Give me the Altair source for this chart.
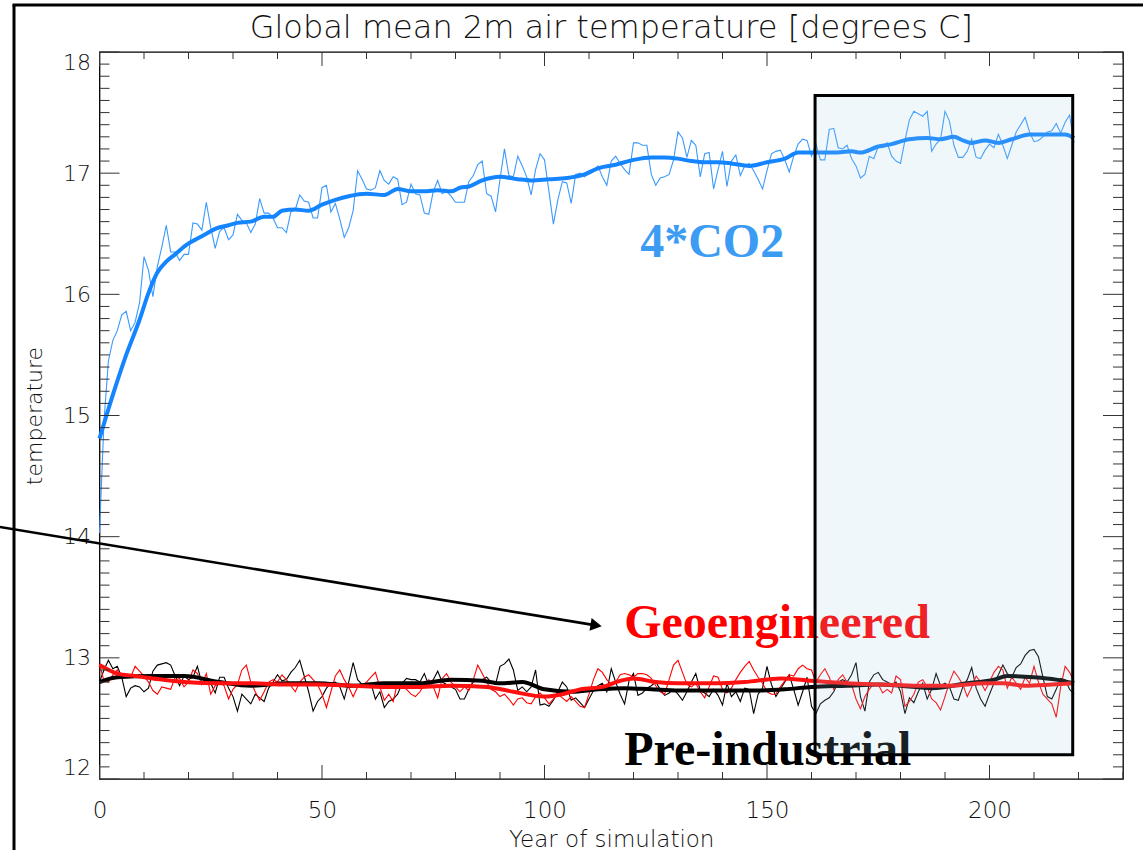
import altair as alt
import pandas as pd

# ---------------- data ----------------
co2_annual = [
    14.03, 14.95, 15.45, 15.62, 15.70, 15.83, 15.86, 15.70, 15.77, 15.93,
    16.31, 16.20, 15.98, 16.23, 16.39, 16.57, 16.35, 16.35, 16.28, 16.33,
    16.33, 16.59, 16.58, 16.53, 16.76, 16.55, 16.38, 16.52, 16.55, 16.45,
    16.49, 16.66, 16.61, 16.59, 16.51, 16.58, 16.79, 16.67, 16.67, 16.63,
    16.55, 16.55, 16.51, 16.68, 16.70, 16.82, 16.77, 16.76, 16.63, 16.63,
    16.88, 16.90, 16.68, 16.75, 16.62, 16.47, 16.55, 16.69, 17.02, 16.95,
    16.87, 16.86, 16.88, 17.02, 16.94, 16.91, 16.97, 16.95, 16.74, 16.76,
    16.91, 16.83, 16.82, 16.67, 16.66, 16.85, 16.94, 16.83, 16.85, 16.81,
    16.76, 16.76, 16.76, 16.93, 16.98, 17.07, 17.10, 16.83, 16.81, 16.68,
    16.95, 17.20, 16.98, 16.97, 17.14, 17.06, 16.97, 16.82, 17.03, 17.16,
    17.11, 16.85, 16.58, 16.78, 16.93, 16.92, 16.75, 16.99, 17.00, 16.97,
    17.00, 17.02, 17.06, 16.97, 16.90, 17.10, 17.14, 17.08, 17.03, 16.99,
    17.25, 17.25, 17.23, 17.23, 16.99, 16.90, 16.96, 16.97, 16.99, 17.11,
    17.34, 17.29, 17.13, 17.27, 17.23, 16.97, 17.16, 17.17, 16.87, 17.03,
    17.18, 16.89, 17.10, 17.15, 16.98, 17.06, 17.08, 17.02, 16.95, 16.87,
    17.02, 17.16, 17.18, 17.19, 17.11, 17.01, 17.14, 17.24, 17.28, 17.27,
    17.14, 17.24, 17.11, 17.11, 17.36, 17.37, 17.21, 17.20, 17.23, 17.12,
    17.06, 16.96, 16.99, 17.14, 17.12, 17.22, 17.21, 17.25, 17.14, 17.10,
    17.08, 17.27, 17.44, 17.51, 17.49, 17.47, 17.51, 17.18, 17.24, 17.28,
    17.51, 17.43, 17.23, 17.13, 17.13, 17.18, 17.28, 17.13, 17.12, 17.19,
    17.24, 17.21, 17.32, 17.23, 17.12, 17.23, 17.34, 17.40, 17.46, 17.34,
    17.26, 17.27, 17.30, 17.34, 17.35, 17.41, 17.33, 17.42, 17.48, 17.25,
]

pi_annual = [
    12.80, 12.90, 12.98, 12.91, 12.93, 12.84, 12.68, 12.75, 12.77, 12.76,
    12.72, 12.75, 12.89, 12.94, 12.95, 12.96, 12.94, 12.85, 12.77, 12.85,
    12.82, 12.84, 12.93, 12.79, 12.80, 12.79, 12.71, 12.84, 12.84, 12.75,
    12.68, 12.56, 12.70, 12.66, 12.62, 12.70, 12.67, 12.64, 12.75, 12.80,
    12.86, 12.81, 12.82, 12.88, 12.92, 12.98, 12.85, 12.72, 12.56, 12.64,
    12.68, 12.75, 12.79, 12.80, 12.76, 12.66, 12.80, 12.96, 12.82, 12.78,
    12.79, 12.79, 12.66, 12.72, 12.59, 12.64, 12.66, 12.70, 12.79, 12.83,
    12.82, 12.82, 12.80, 12.87, 12.77, 12.82, 12.89, 12.80, 12.78, 12.76,
    12.74, 12.66, 12.66, 12.74, 12.80, 12.82, 12.82, 12.84, 12.80, 12.78,
    12.93, 12.95, 12.99, 12.90, 12.73, 12.76, 12.72, 12.76, 12.90, 12.61,
    12.62, 12.60, 12.65, 12.72, 12.80, 12.76, 12.65, 12.67, 12.63, 12.59,
    12.66, 12.73, 12.77, 12.79, 12.72, 12.91, 12.80, 12.70, 12.62, 12.81,
    12.87, 12.69, 12.71, 12.75, 12.77, 12.80, 12.74, 12.69, 12.71, 12.74,
    12.70, 12.65, 12.72, 12.80, 12.87, 12.73, 12.71, 12.68, 12.74, 12.69,
    12.61, 12.79, 12.68, 12.72, 12.64, 12.75, 12.74, 12.54, 12.70, 12.75,
    12.93, 12.78, 12.68, 12.74, 12.80, 12.86, 12.74, 12.61, 12.72, 12.84,
    12.60, 12.54, 12.62, 12.65, 12.67, 12.72, 12.80, 12.82, 12.80, 12.86,
    12.96, 12.68, 12.56, 12.80, 12.86, 12.88, 12.82, 12.80, 12.78, 12.80,
    12.72, 12.54, 12.67, 12.63, 12.72, 12.79, 12.66, 12.74, 12.87, 12.77,
    12.79, 12.76, 12.66, 12.65, 12.76, 12.82, 12.92, 12.75, 12.66, 12.60,
    12.70, 12.79, 12.86, 12.94, 12.87, 12.84, 12.92, 12.95, 13.02, 13.06,
    13.07, 13.01, 12.84, 12.68, 12.66, 12.74, 12.83, 12.82, 12.74, 12.70,
]

geo_annual = [
    12.95, 12.81, 12.80, 12.86, 12.90, 12.83, 12.85, 12.84, 12.93, 12.89,
    12.85, 12.80, 12.73, 12.70, 12.76, 12.75, 12.74, 12.84, 12.83, 12.76,
    12.80, 12.90, 12.87, 12.78, 12.87, 12.70, 12.77, 12.80, 12.77, 12.66,
    12.74, 12.78, 12.90, 12.94, 12.80, 12.72, 12.65, 12.72, 12.80, 12.82,
    12.80, 12.86, 12.82, 12.77, 12.72, 12.80, 12.84, 12.86, 12.82, 12.78,
    12.70, 12.59, 12.72, 12.85, 12.90, 12.82, 12.76, 12.68, 12.76, 12.77,
    12.80, 12.84, 12.88, 12.76, 12.65, 12.70, 12.64, 12.80, 12.78, 12.74,
    12.70, 12.68, 12.72, 12.78, 12.82, 12.76, 12.67, 12.83, 12.87, 12.80,
    12.76, 12.72, 12.76, 12.73, 12.82, 12.94, 12.87, 12.80, 12.74, 12.72,
    12.68, 12.70, 12.66, 12.61, 12.66, 12.67, 12.63, 12.62, 12.68, 12.71,
    12.67, 12.62, 12.66, 12.70, 12.67, 12.64, 12.68, 12.64, 12.60, 12.59,
    12.70, 12.82, 12.91, 12.88, 12.82, 12.78, 12.80, 12.86, 12.87, 12.86,
    12.84, 12.87, 12.87, 12.86, 12.83, 12.77, 12.72, 12.70, 12.82, 12.94,
    12.98, 12.88, 12.78, 12.76, 12.79, 12.72, 12.67, 12.76, 12.85, 12.84,
    12.74, 12.71, 12.75, 12.82, 12.88, 12.93, 12.97, 12.90, 12.84, 12.79,
    12.72, 12.70, 12.70, 12.76, 12.81, 12.86, 12.85, 12.91, 12.94, 12.91,
    12.90, 12.80, 12.86, 12.91, 12.84, 12.74, 12.82, 12.86, 12.80, 12.78,
    12.66, 12.58, 12.68, 12.74, 12.79, 12.78, 12.71, 12.74, 12.71, 12.85,
    12.82, 12.60, 12.64, 12.70, 12.80, 12.82, 12.76, 12.66, 12.63, 12.57,
    12.68, 12.80, 12.89, 12.84, 12.78, 12.68, 12.76, 12.85, 12.80, 12.73,
    12.80, 12.88, 12.93, 12.90, 12.75, 12.84, 12.79, 12.74, 12.84, 12.79,
    12.93, 12.80, 12.70, 12.66, 12.62, 12.51, 12.76, 12.93, 12.88, 12.80,
]

co2_smooth_years = [0, 3, 6, 9, 11, 13, 15, 17, 20, 22, 24, 26, 29, 31, 34, 37, 39, 41, 44, 47,
                    50, 53, 56, 60, 64, 67, 70, 73, 76, 79, 81, 83, 86, 90, 94, 97, 101, 105, 109, 112,
                    116, 120, 124, 127, 130, 133, 136, 139, 142, 146, 150, 154, 157, 161, 165, 169, 171, 175, 178, 182,
                    186, 189, 192, 194, 196, 199, 202, 205, 209, 213, 217, 219]
co2_smooth = [14.81, 15.17, 15.50, 15.79, 16.01, 16.18, 16.27, 16.33, 16.42, 16.46, 16.50, 16.54, 16.57, 16.59, 16.60, 16.64, 16.64, 16.69, 16.70, 16.69,
              16.74, 16.78, 16.81, 16.83, 16.82, 16.87, 16.85, 16.85, 16.86, 16.85, 16.88, 16.89, 16.94, 16.97, 16.95, 16.94, 16.95, 16.96, 16.99, 17.04,
              17.07, 17.11, 17.13, 17.13, 17.12, 17.10, 17.09, 17.09, 17.08, 17.06, 17.09, 17.12, 17.17, 17.17, 17.17, 17.18, 17.17, 17.22, 17.24, 17.28,
              17.29, 17.28, 17.30, 17.27, 17.25, 17.27, 17.25, 17.28, 17.32, 17.32, 17.32, 17.29]

pi_smooth_years = [0, 4, 12, 19, 27, 34, 42, 49, 57, 64, 72, 79, 86, 90, 95, 100, 106, 112, 118, 124,
                   130, 136, 142, 148, 154, 160, 168, 175, 180, 187, 195, 201, 204, 210, 215, 219]
pi_smooth = [12.80, 12.84, 12.85, 12.85, 12.80, 12.77, 12.79, 12.79, 12.77, 12.79, 12.79, 12.82, 12.81, 12.79, 12.80, 12.74, 12.72, 12.74, 12.75, 12.74,
             12.73, 12.73, 12.73, 12.73, 12.74, 12.76, 12.77, 12.78, 12.77, 12.75, 12.79, 12.82, 12.85, 12.84, 12.82, 12.79]

geo_smooth_years = [0, 4, 8, 12, 19, 27, 34, 42, 49, 57, 64, 72, 79, 87, 93, 100, 104, 108, 113, 117,
                    120, 125, 130, 138, 145, 153, 160, 168, 176, 184, 191, 199, 203, 208, 214, 219]
geo_smooth = [12.94, 12.87, 12.85, 12.83, 12.80, 12.79, 12.79, 12.78, 12.78, 12.77, 12.76, 12.76, 12.77, 12.76, 12.72, 12.68, 12.70, 12.74, 12.76, 12.81,
              12.83, 12.80, 12.79, 12.79, 12.80, 12.83, 12.81, 12.79, 12.78, 12.77, 12.77, 12.79, 12.79, 12.77, 12.78, 12.79]

# averaging window box, arrow and labels (in data units)
box = {"x": [160.8], "x2": [218.7], "y": [12.20], "y2": [17.64]}
arrow_years = [-22.4, 111.6]
arrow_temps = [14.08, 13.268]
labels = [
    {"text": "4*CO2", "year": 121.5, "temp": 16.31, "color": "#3C9CF4"},
    {"text": "Geoengineered", "year": 117.9, "temp": 13.164, "color": "#FF0000"},
    {"text": "Pre-industrial", "year": 117.9, "temp": 12.116, "color": "#000000"},
]
title_text = ["Global mean 2m air temperature [degrees C]"]

x_major = [0, 50, 100, 150, 200]
x_minor = [v for v in range(0, 231, 10) if v % 50 != 0]
y_major = [12, 13, 14, 15, 16, 17, 18]
y_minor = [round(12 + i / 10, 1) for i in range(61) if i % 10 != 0]

# ---------------- chart ----------------
W, H = 1023.5, 727
FONT = "DejaVu Sans"
LIGHT = 200
xs = alt.Scale(domain=[0, 230], nice=False, zero=False)
ys = alt.Scale(domain=[12, 18], nice=False, zero=False)
xaxis = alt.Axis(values=x_major, title="Year of simulation", grid=False, ticks=False, tickSize=0,
                 domain=False, labelFlush=False, labelFont=FONT, labelFontSize=23, labelFontWeight=LIGHT,
                 labelPadding=20, labelColor="#111",
                 titleFont=FONT, titleFontSize=23, titleFontWeight=LIGHT, titleColor="#111",
                 titlePadding=6)
yaxis = alt.Axis(values=y_major, title="temperature", grid=False, ticks=False, tickSize=0,
                 domain=False, labelFlush=True, labelFont=FONT, labelFontSize=22, labelFontWeight=LIGHT,
                 labelPadding=9, labelColor="#111", titleFont=FONT, titleFontSize=22,
                 titleFontWeight=LIGHT, titleColor="#111", titlePadding=16)
X = alt.X("year:Q", scale=xs, axis=xaxis)
Y = alt.Y("temp:Q", scale=ys, axis=yaxis)


def series(years, temps, color, width, interp):
    df = pd.DataFrame({"year": years, "temp": temps})
    return alt.Chart(df).mark_line(color=color, strokeWidth=width, interpolate=interp).encode(x=X, y=Y)


layers = [
    series(list(range(len(pi_annual))), pi_annual, "#000000", 1.1, "linear"),
    series(list(range(len(geo_annual))), geo_annual, "#FF0000", 1.1, "linear"),
    series(pi_smooth_years, pi_smooth, "#000000", 4, "monotone"),
    series(geo_smooth_years, geo_smooth, "#FF1010", 4, "monotone"),
    series(list(range(len(co2_annual))), co2_annual, "#3A9AFF", 1.1, "linear"),
    series(co2_smooth_years, co2_smooth, "#1585FF", 4, "monotone"),
]

lab_df = pd.DataFrame(labels)
layers.append(
    alt.Chart(lab_df).mark_text(font="Liberation Serif", fontWeight="bold", fontSize=48,
                                align="left", baseline="alphabetic").encode(
        x=X, y=Y, text="text:N", color=alt.Color("color:N", scale=None))
)

box_df = pd.DataFrame(box)
layers.append(
    alt.Chart(box_df).mark_rect(fill="#9CCFE0", fillOpacity=0.16, stroke="#000000", strokeWidth=3).encode(
        x=alt.X("x:Q", scale=xs, axis=xaxis), x2="x2:Q",
        y=alt.Y("y:Q", scale=ys, axis=yaxis), y2="y2:Q")
)

arrow_df = pd.DataFrame({"year": arrow_years, "temp": arrow_temps})
layers.append(alt.Chart(arrow_df).mark_line(color="black", strokeWidth=2.6).encode(x=X, y=Y))
head_df = arrow_df.iloc[[1]]
layers.append(alt.Chart(head_df).mark_point(shape="triangle-right", size=170, filled=True, color="black",
                                             opacity=1, angle=9.4).encode(x=X, y=Y))

# inward ticks on all four sides
TC = "#333333"
ymaj = pd.DataFrame({"temp": y_major})
ymin = pd.DataFrame({"temp": y_minor})
xmaj = pd.DataFrame({"year": x_major})
xmin = pd.DataFrame({"year": x_minor})
for df, ln in ((ymaj, 20), (ymin, 10)):
    layers.append(alt.Chart(df).mark_rule(color=TC, strokeWidth=1).encode(y=Y, x=alt.value(0), x2=alt.value(ln)))
    layers.append(alt.Chart(df).mark_rule(color=TC, strokeWidth=1).encode(y=Y, x=alt.value(W), x2=alt.value(W - ln)))
for df, ln in ((xmaj, 14), (xmin, 7)):
    layers.append(alt.Chart(df).mark_rule(color=TC, strokeWidth=1).encode(x=X, y=alt.value(H), y2=alt.value(H - ln)))
    layers.append(alt.Chart(df).mark_rule(color=TC, strokeWidth=1).encode(x=X, y=alt.value(0), y2=alt.value(ln)))

# title as a text mark placed above the plot
title_df = pd.DataFrame({"t": title_text})
layers.append(alt.Chart(title_df).mark_text(font=FONT, fontSize=32, fontWeight=LIGHT, color="#111",
                                            align="center", baseline="alphabetic").encode(
    text="t:N", x=alt.value(W / 2), y=alt.value(-14)))

# slide frame (left and top border lines)
frame_df = pd.DataFrame({"k": [0]})
layers.append(alt.Chart(frame_df).mark_rule(color="black", strokeWidth=3).encode(
    x=alt.value(-85.5), y=alt.value(-47), y2=alt.value(820)))
layers.append(alt.Chart(frame_df).mark_rule(color="black", strokeWidth=3).encode(
    x=alt.value(-87), x2=alt.value(1060), y=alt.value(-47)))

chart = alt.layer(*layers).properties(
    width=W, height=H,
    padding={"left": 99.5, "top": 52, "right": 20, "bottom": 71},
    autosize="none", background="white",
).configure_view(stroke="black", strokeWidth=1.3)

chart.save("out.html", embed_options={"renderer": "svg", "actions": False})
